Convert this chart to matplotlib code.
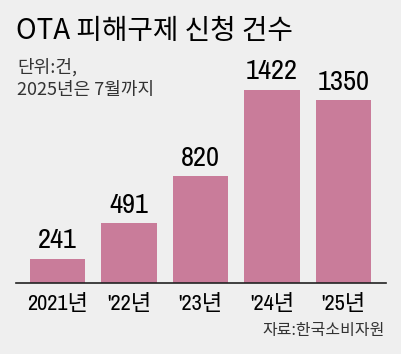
import matplotlib
matplotlib.use('Agg')
import matplotlib.pyplot as plt

# Data
years = ['2021년', "'22년", "'23년", "'24년", "'25년"]
counts = [241, 491, 820, 1422, 1350]

title = 'OTA 피해구제 신청 건수'
unit_line1 = '단위:건,'
unit_line2 = '2025년은 7월까지'
source = '자료:한국소비자원'

bg = '#efefef'
bar_color = '#c97c9a'
fonts = ['Archivo Narrow', 'Liberation Sans Narrow', 'Noto Sans CJK KR', 'DejaVu Sans']
kr_fonts = ['Noto Sans CJK KR', 'DejaVu Sans']

fig = plt.figure(figsize=(4.02, 3.54), dpi=100, facecolor=bg)
ax = fig.add_axes([16 / 402, 1 - 283 / 354, 370 / 402, (283 - 55) / 354])
ax.set_facecolor(bg)

x = list(range(len(years)))
ax.bar(x, counts, width=0.77, color=bar_color, zorder=2)

# the baseline of the original sits a little above zero
ax.set_ylim(73, 73 + 228 / 0.1431)
ax.set_xlim(-0.58, 4.594)

for xi, v in zip(x, counts):
    ax.annotate(str(v), (xi, v), xytext=(0, 4), textcoords='offset points',
                ha='center', va='bottom', fontsize=20.5, family=fonts)

for s in ['top', 'right', 'left']:
    ax.spines[s].set_visible(False)
ax.spines['bottom'].set_linewidth(1.2)
ax.spines['bottom'].set_color('#222222')
ax.set_yticks([])
ax.set_xticks(x)
ax.set_xticklabels(years, fontsize=16, family=fonts)
ax.tick_params(axis='x', length=0, pad=8)

fig.text(16 / 402, 1 - 31 / 354, title, fontsize=20, family=kr_fonts,
         va='center', ha='left')
fig.text(17 / 402, 1 - 67 / 354, unit_line1, fontsize=13, family=kr_fonts,
         va='center', ha='left', color='#333333')
fig.text(17 / 402, 1 - 90 / 354, unit_line2, fontsize=13, family=kr_fonts,
         va='center', ha='left', color='#333333')
fig.text(385 / 402, 1 - 331 / 354, source, fontsize=11.5, family=kr_fonts,
         va='center', ha='right', color='#333333')

fig.savefig('out.png', dpi=100, facecolor=bg)
